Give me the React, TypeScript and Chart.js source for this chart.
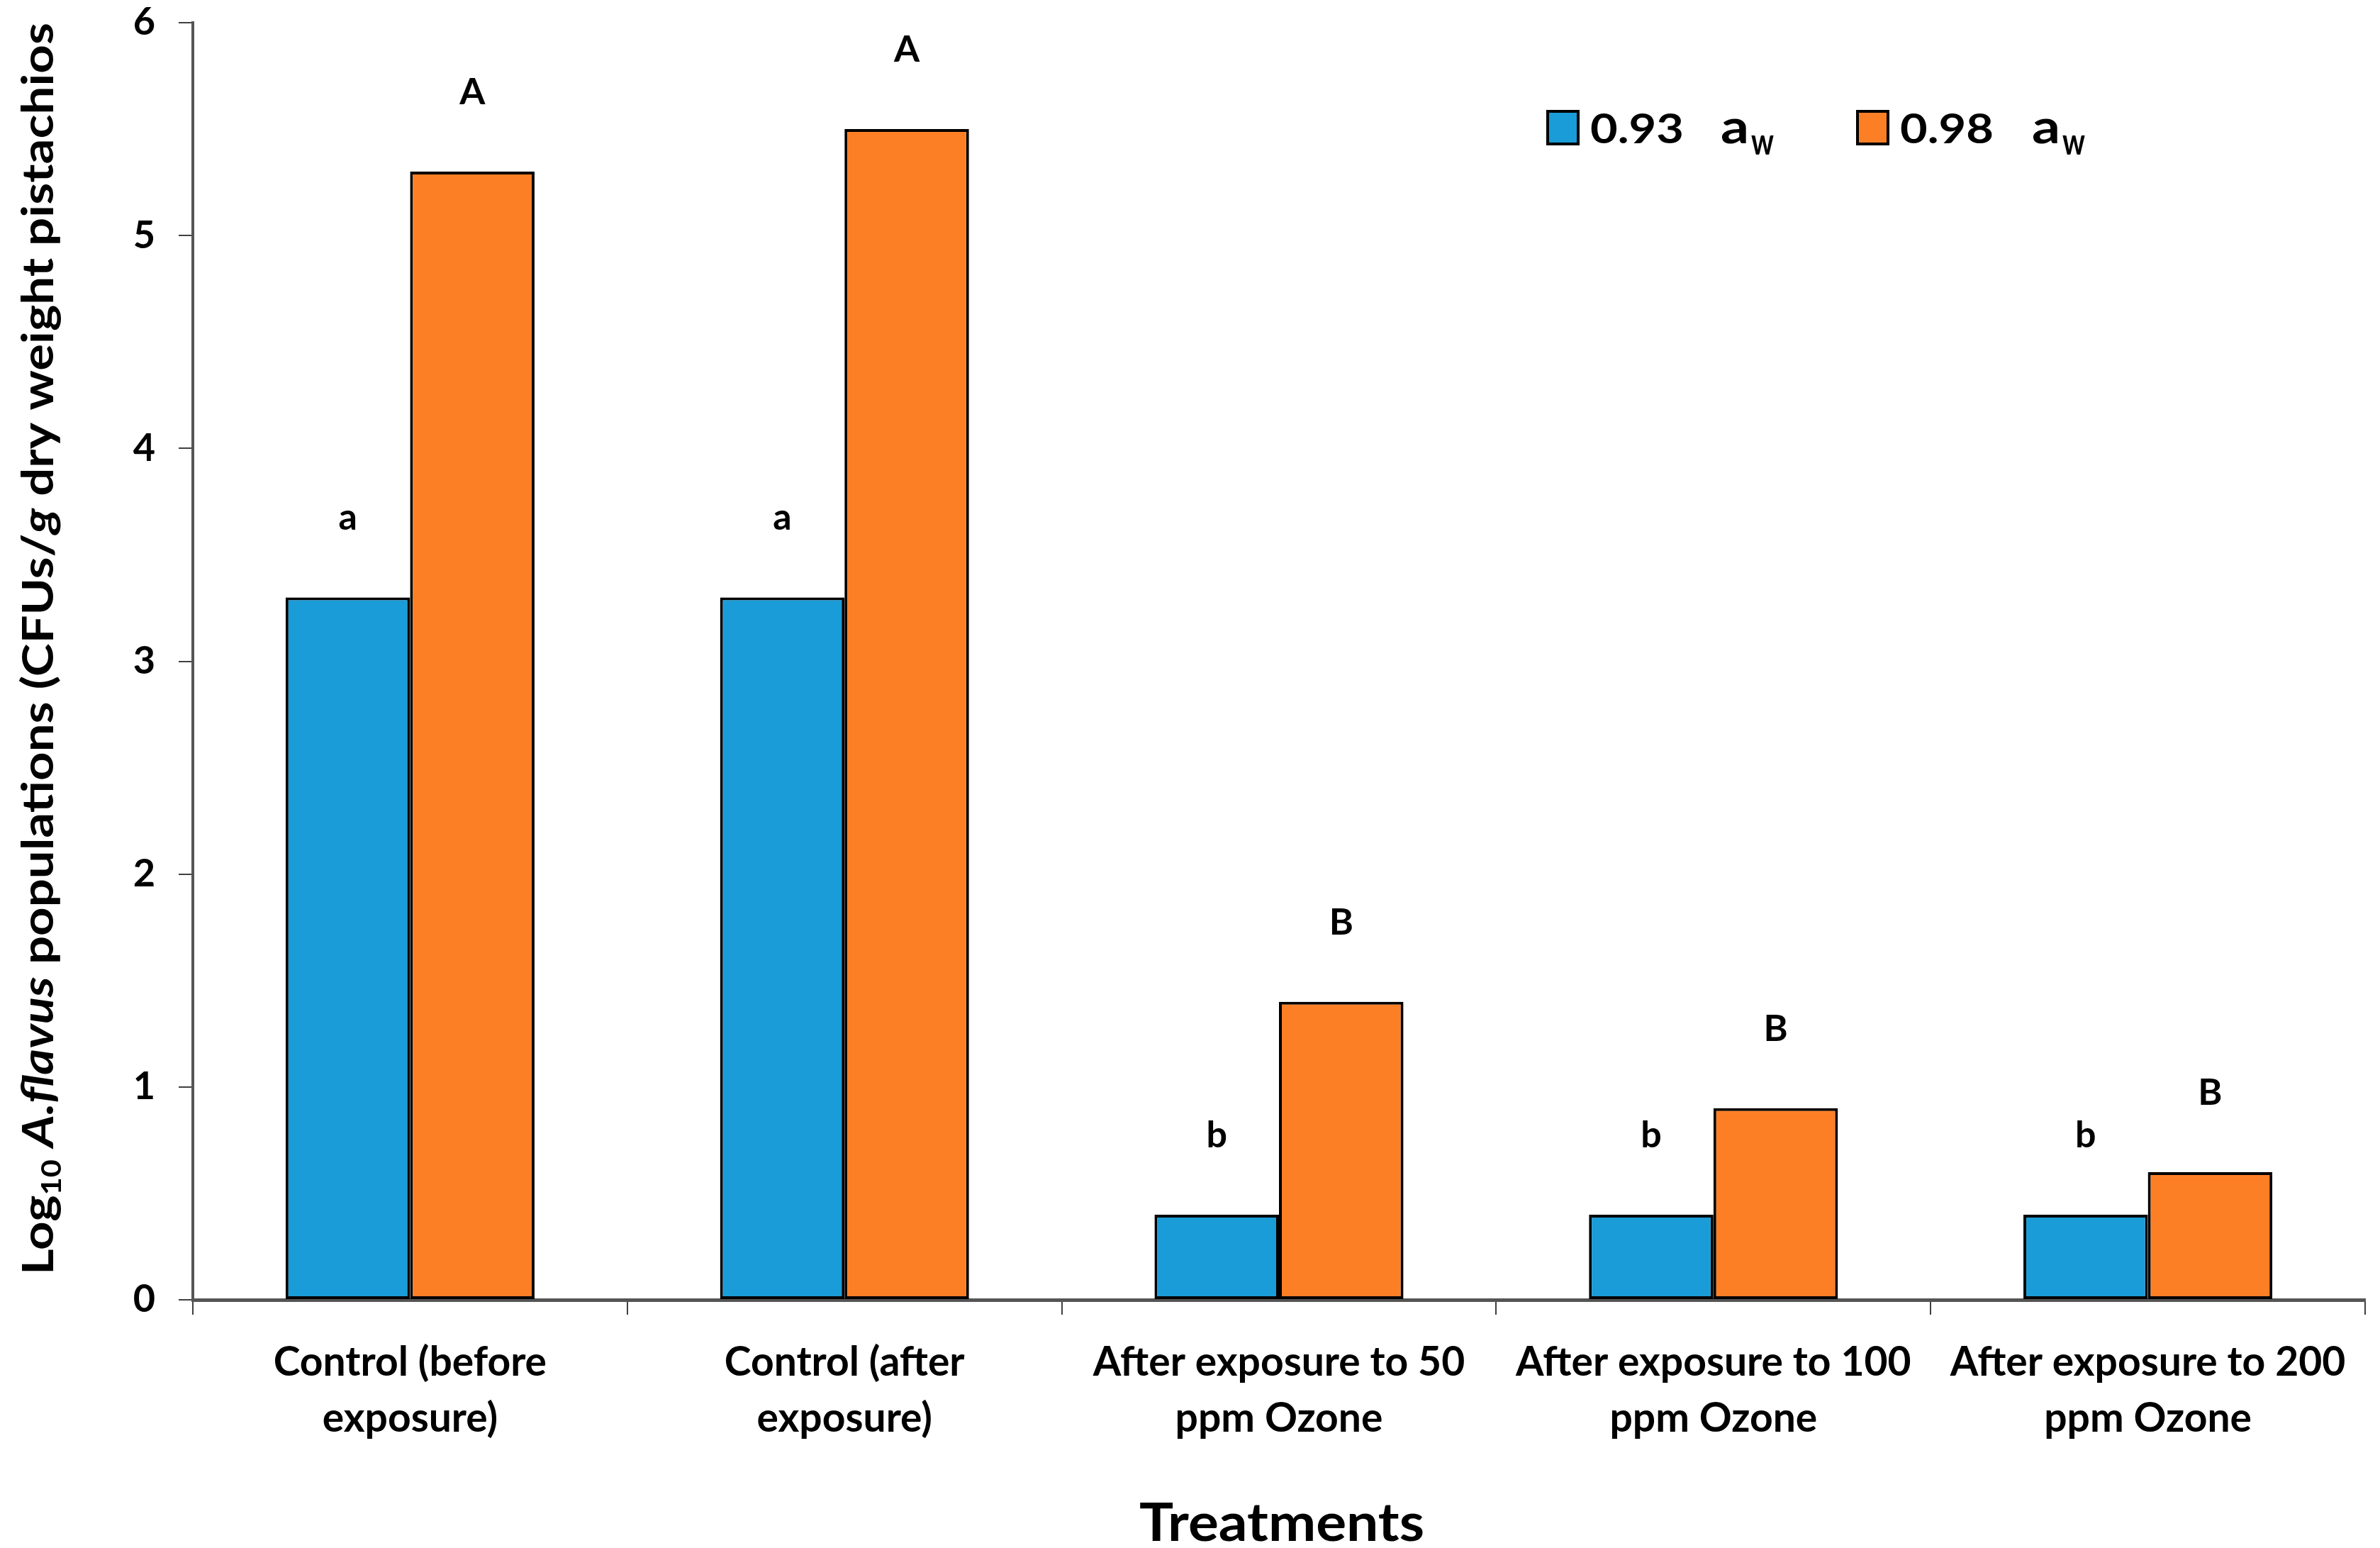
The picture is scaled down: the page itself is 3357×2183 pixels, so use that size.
import React, { useEffect, useRef } from "react";
import { Chart, registerables } from "chart.js";

Chart.register(...registerables);

const categories: string[][] = [
  ["Control (before", "exposure)"],
  ["Control (after", "exposure)"],
  ["After exposure to 50", "ppm Ozone"],
  ["After exposure to 100", "ppm Ozone"],
  ["After exposure to 200", "ppm Ozone"],
];
const series093: number[] = [3.3, 3.3, 0.4, 0.4, 0.4];
const series098: number[] = [5.3, 5.5, 1.4, 0.9, 0.6];
const letters093: string[] = ["a", "a", "b", "b", "b"];
const letters098: string[] = ["A", "A", "B", "B", "B"];
const legendLabels: string[] = ["0.93", "0.98"];
const yTicks: number[] = [0, 1, 2, 3, 4, 5, 6];

const BLUE = "#1a9cd8";
const ORANGE = "#fd7f25";
const FONT = "Lato, 'Open Sans', sans-serif";

function fitText(ctx: CanvasRenderingContext2D, text: string, x: number, y: number, w: number) {
  const m = ctx.measureText(text).width;
  ctx.save();
  ctx.translate(x, y);
  ctx.scale(w / m, 1);
  ctx.fillText(text, 0, 0);
  ctx.restore();
}

const decorPlugin = {
  id: "decor",
  afterDatasetsDraw(chart: any) {
    const ctx: CanvasRenderingContext2D = chart.ctx;
    ctx.save();
    ctx.fillStyle = "#000";
    ctx.textAlign = "center";
    ctx.textBaseline = "alphabetic";
    ctx.font = `bold 52px ${FONT}`;
    [letters093, letters098].forEach((letters, di) => {
      const meta = chart.getDatasetMeta(di);
      meta.data.forEach((bar: any, i: number) => {
        ctx.fillText(letters[i], bar.x, bar.y - 95);
      });
    });
    ctx.restore();
  },
  afterDraw(chart: any) {
    const ctx: CanvasRenderingContext2D = chart.ctx;
    ctx.save();
    ctx.fillStyle = "#000";
    ctx.textBaseline = "alphabetic";

    // Legend
    const items = [
      { color: BLUE, box: 2183, num: 2243, a: 2427 },
      { color: ORANGE, box: 2620, num: 2680, a: 2866 },
    ];
    items.forEach((it, i) => {
      ctx.fillStyle = it.color;
      ctx.fillRect(it.box, 157, 43, 46);
      ctx.strokeStyle = "#000";
      ctx.lineWidth = 4;
      ctx.strokeRect(it.box, 157, 43, 46);
      ctx.fillStyle = "#000";
      ctx.textAlign = "left";
      ctx.font = `bold 58px ${FONT}`;
      fitText(ctx, legendLabels[i], it.num, 202, 132);
      ctx.font = `bold 66px ${FONT}`;
      fitText(ctx, "a", it.a, 202, 40);
      ctx.font = `bold 52px ${FONT}`;
      fitText(ctx, "w", it.a + 43, 218, 32);
    });

    // X axis title
    ctx.textAlign = "left";
    ctx.font = `bold 74px ${FONT}`;
    fitText(ctx, "Treatments", 1607, 2173, 402);

    // Y axis title (rich text, rotated)
    const S = 62;
    const segs = [
      { t: "Log", f: `bold ${S}px ${FONT}`, dy: 0 },
      { t: "10", f: `bold ${Math.round(S * 0.62)}px ${FONT}`, dy: 11 },
      { t: " ", f: `bold ${S}px ${FONT}`, dy: 0 },
      { t: "A.flavus", f: `italic bold ${S}px ${FONT}`, dy: 0 },
      { t: " populations (CFUs/", f: `bold ${S}px ${FONT}`, dy: 0 },
      { t: "g", f: `italic bold ${S}px ${FONT}`, dy: 0 },
      { t: " dry weight pistachios", f: `bold ${S}px ${FONT}`, dy: 0 },
    ];
    let total = 0;
    const widths = segs.map((s) => {
      ctx.font = s.f;
      const w = ctx.measureText(s.t).width;
      total += w;
      return w;
    });
    const target = 1766;
    const k = target / total;
    ctx.translate(75, 915);
    ctx.rotate(-Math.PI / 2);
    ctx.scale(k, 1);
    let x = -total / 2;
    ctx.textAlign = "left";
    segs.forEach((s, i) => {
      ctx.font = s.f;
      ctx.fillText(s.t, x, s.dy);
      x += widths[i];
    });
    ctx.restore();
  },
};

export default function App() {
  const ref = useRef<HTMLCanvasElement | null>(null);
  useEffect(() => {
    if (!ref.current) return;
    const chart = new Chart(ref.current, {
      type: "bar",
      data: {
        labels: categories,
        datasets: [
          {
            label: "0.93 aw",
            data: series093,
            backgroundColor: BLUE,
            borderColor: "#000",
            borderWidth: 4,
            borderSkipped: false,
            categoryPercentage: 0.573,
            barPercentage: 1,
          },
          {
            label: "0.98 aw",
            data: series098,
            backgroundColor: ORANGE,
            borderColor: "#000",
            borderWidth: 4,
            borderSkipped: false,
            categoryPercentage: 0.573,
            barPercentage: 1,
          },
        ],
      },
      options: {
        animation: false,
        responsive: false,
        layout: { padding: { left: 0, top: 32, right: 21, bottom: 0 } },
        plugins: {
          legend: { display: false },
          tooltip: { enabled: false },
        },
        scales: {
          x: {
            offset: true,
            grid: {
              offset: true,
              drawOnChartArea: false,
              drawTicks: true,
              tickLength: 21,
              color: "#404040",
              lineWidth: 2,
            },
            border: { display: true, color: "#555555", width: 5 },
            ticks: {
              color: "#000",
              autoSkip: false,
              maxRotation: 0,
              minRotation: 0,
              padding: 29,
              font: { family: FONT, weight: "bold", size: 57, lineHeight: 1.37 },
            },
            afterFit: (s: any) => {
              s.height = 350;
              s.paddingLeft = 0;
              s.paddingRight = 0;
            },
          },
          y: {
            min: 0,
            max: 6,
            afterBuildTicks: (s: any) => {
              s.ticks = yTicks.map((v) => ({ value: v }));
            },
            grid: {
              drawOnChartArea: false,
              drawTicks: true,
              tickLength: 20,
              color: "#404040",
              lineWidth: 2,
            },
            border: { display: true, color: "#555555", width: 4 },
            ticks: {
              color: "#000",
              padding: 33,
              font: { family: FONT, weight: "bold", size: 54 },
            },
            afterFit: (s: any) => {
              s.width = 272;
              s.paddingTop = 0;
              s.paddingBottom = 0;
            },
          },
        },
      },
      plugins: [decorPlugin],
    } as any);
    return () => chart.destroy();
  }, []);
  return (
    <div style={{ position: "absolute", left: 0, top: 0, width: 3357, height: 2183, background: "#fff" }}>
      <canvas ref={ref} width={3357} height={2183} />
    </div>
  );
}
